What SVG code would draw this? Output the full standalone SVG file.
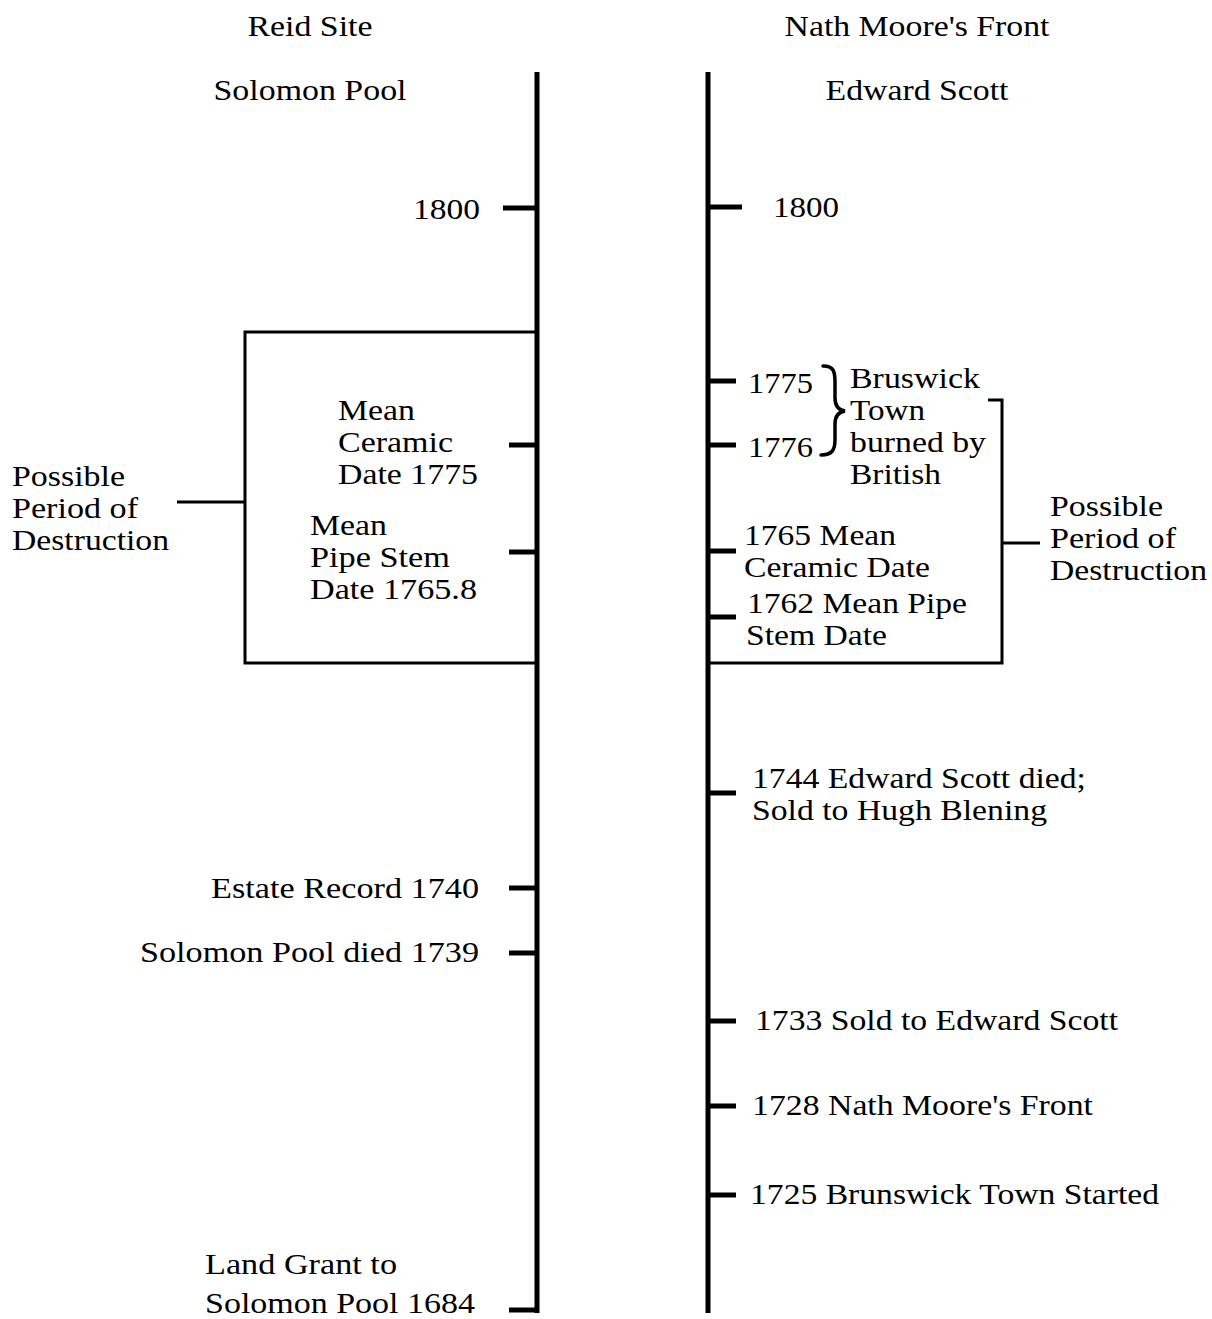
<svg xmlns="http://www.w3.org/2000/svg" width="1212" height="1319" viewBox="0 0 1212 1319">
<style>
text{font-family:"Liberation Serif","Times New Roman",serif;font-size:28.5px;fill:#000}
.e{text-anchor:end}
.m{text-anchor:middle}
.axis{stroke:#000;stroke-width:5;fill:none}
.tick{stroke:#000;stroke-width:5;fill:none;stroke-linecap:butt}
.thin{stroke:#000;stroke-width:3;fill:none}
.brace{stroke:#000;stroke-width:3.5;fill:none;stroke-linecap:round}
</style>
<rect width="1212" height="1319" fill="#fff"/>
<g id="connectors">
<line class="axis" x1="537" y1="72" x2="537" y2="1313"/>
<line class="axis" x1="708" y1="72" x2="708" y2="1313"/>
<line class="tick" x1="503" y1="208" x2="537" y2="208"/>
<line class="tick" x1="708" y1="207" x2="742" y2="207"/>
<line class="tick" x1="509" y1="445" x2="537" y2="445"/>
<line class="tick" x1="509" y1="552" x2="537" y2="552"/>
<line class="tick" x1="509" y1="888" x2="537" y2="888"/>
<line class="tick" x1="509" y1="953" x2="537" y2="953"/>
<line class="tick" x1="509" y1="1310" x2="537" y2="1310"/>
<line class="tick" x1="708" y1="381" x2="736" y2="381"/>
<line class="tick" x1="708" y1="445" x2="736" y2="445"/>
<line class="tick" x1="708" y1="551" x2="736" y2="551"/>
<line class="tick" x1="708" y1="617" x2="736" y2="617"/>
<line class="tick" x1="708" y1="793" x2="736" y2="793"/>
<line class="tick" x1="708" y1="1021" x2="736" y2="1021"/>
<line class="tick" x1="708" y1="1106" x2="736" y2="1106"/>
<line class="tick" x1="708" y1="1195" x2="736" y2="1195"/>
<line class="thin" x1="177" y1="502" x2="245" y2="502"/>
<line class="thin" x1="1002" y1="543" x2="1040" y2="543"/>
</g>
<g id="header-left">
<text class="m" x="310" y="36" textLength="125" lengthAdjust="spacingAndGlyphs">Reid Site</text>
<text class="m" x="310" y="100" textLength="193" lengthAdjust="spacingAndGlyphs">Solomon Pool</text>
</g>
<g id="header-right">
<text class="m" x="917" y="36" textLength="265" lengthAdjust="spacingAndGlyphs">Nath Moore's Front</text>
<text class="m" x="917" y="100" textLength="183" lengthAdjust="spacingAndGlyphs">Edward Scott</text>
</g>
<g id="left-1800"><text class="e" x="480" y="219" textLength="67" lengthAdjust="spacingAndGlyphs">1800</text></g>
<g id="left-box">
<polyline class="thin" points="537,332 245,332 245,663 537,663"/>
</g>
<g id="left-period">
<text x="12" y="486" textLength="113" lengthAdjust="spacingAndGlyphs">Possible</text>
<text x="12" y="518" textLength="126" lengthAdjust="spacingAndGlyphs">Period of</text>
<text x="12" y="550" textLength="157" lengthAdjust="spacingAndGlyphs">Destruction</text>
</g>
<g id="left-ceramic">
<text x="338" y="420" textLength="77" lengthAdjust="spacingAndGlyphs">Mean</text>
<text x="338" y="452" textLength="115" lengthAdjust="spacingAndGlyphs">Ceramic</text>
<text x="338" y="484" textLength="140" lengthAdjust="spacingAndGlyphs">Date 1775</text>
</g>
<g id="left-pipe">
<text x="310" y="535" textLength="77" lengthAdjust="spacingAndGlyphs">Mean</text>
<text x="310" y="567" textLength="140" lengthAdjust="spacingAndGlyphs">Pipe Stem</text>
<text x="310" y="599" textLength="167" lengthAdjust="spacingAndGlyphs">Date 1765.8</text>
</g>
<g id="left-estate"><text class="e" x="479" y="898" textLength="268" lengthAdjust="spacingAndGlyphs">Estate Record 1740</text></g>
<g id="left-died"><text class="e" x="479" y="962" textLength="339" lengthAdjust="spacingAndGlyphs">Solomon Pool died 1739</text></g>
<g id="left-grant">
<text x="205" y="1274" textLength="192" lengthAdjust="spacingAndGlyphs">Land Grant to</text>
<text x="205" y="1313" textLength="270" lengthAdjust="spacingAndGlyphs">Solomon Pool 1684</text>
</g>
<g id="right-1800"><text x="773" y="217" textLength="66" lengthAdjust="spacingAndGlyphs">1800</text></g>
<g id="right-1775"><text x="748" y="393" textLength="65" lengthAdjust="spacingAndGlyphs">1775</text></g>
<g id="right-1776"><text x="748" y="457" textLength="65" lengthAdjust="spacingAndGlyphs">1776</text></g>
<g id="right-brace">
<path class="brace" d="M823,366 C834,366 835,372 835,382 L835,398 C835,406 838,410 845,411 C838,412 835,416 835,424 L835,440 C835,450 832,455 821,455"/>
</g>
<g id="right-burned">
<text x="850" y="388" textLength="130" lengthAdjust="spacingAndGlyphs">Bruswick</text>
<text x="850" y="420" textLength="75" lengthAdjust="spacingAndGlyphs">Town</text>
<text x="850" y="452" textLength="136" lengthAdjust="spacingAndGlyphs">burned by</text>
<text x="850" y="484" textLength="91" lengthAdjust="spacingAndGlyphs">British</text>
</g>
<g id="right-bracket">
<polyline class="thin" points="988,400 1002,400 1002,663 708,663"/>
</g>
<g id="right-period">
<text x="1050" y="516" textLength="113" lengthAdjust="spacingAndGlyphs">Possible</text>
<text x="1050" y="548" textLength="126" lengthAdjust="spacingAndGlyphs">Period of</text>
<text x="1050" y="580" textLength="157" lengthAdjust="spacingAndGlyphs">Destruction</text>
</g>
<g id="right-1765">
<text x="744" y="545" textLength="152" lengthAdjust="spacingAndGlyphs">1765 Mean</text>
<text x="744" y="577" textLength="186" lengthAdjust="spacingAndGlyphs">Ceramic Date</text>
</g>
<g id="right-1762">
<text x="747" y="613" textLength="220" lengthAdjust="spacingAndGlyphs">1762 Mean Pipe</text>
<text x="746" y="645" textLength="141" lengthAdjust="spacingAndGlyphs">Stem Date</text>
</g>
<g id="right-1744">
<text x="752" y="788" textLength="334" lengthAdjust="spacingAndGlyphs">1744 Edward Scott died;</text>
<text x="752" y="820" textLength="295" lengthAdjust="spacingAndGlyphs">Sold to Hugh Blening</text>
</g>
<g id="right-1733"><text x="755" y="1030" textLength="363" lengthAdjust="spacingAndGlyphs">1733 Sold to Edward Scott</text></g>
<g id="right-1728"><text x="752" y="1115" textLength="341" lengthAdjust="spacingAndGlyphs">1728 Nath Moore's Front</text></g>
<g id="right-1725"><text x="750" y="1204" textLength="409" lengthAdjust="spacingAndGlyphs">1725 Brunswick Town Started</text></g>
</svg>
